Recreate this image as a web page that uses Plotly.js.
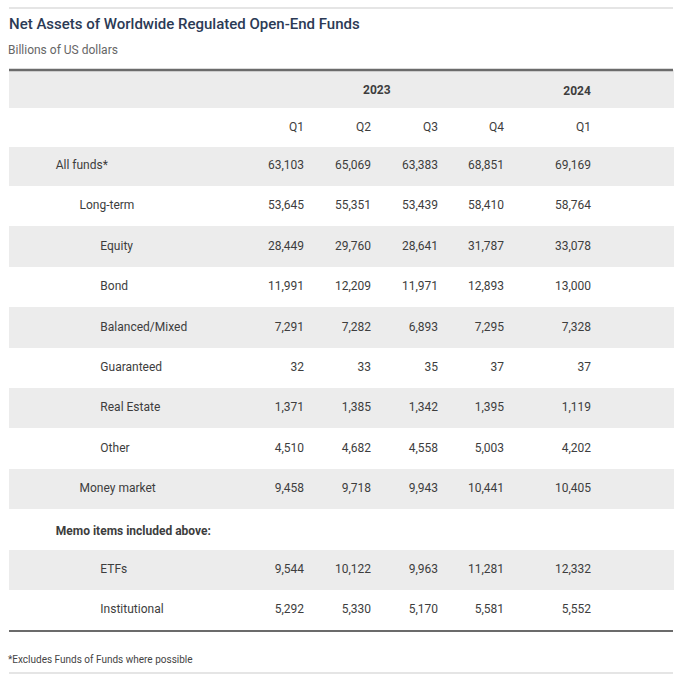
<!DOCTYPE html>
<html>
<head>
<meta charset="utf-8">
<script src="https://cdn.plot.ly/plotly-3.0.1.min.js"></script>
<style>html,body{margin:0;padding:0;background:#fff;}#chart{width:700px;height:677px;}</style>
</head>
<body>
<div id="chart"></div>
<script>
// ---- Data ----
const years = ["2023", "2024"];
const quarters = ["Q1", "Q2", "Q3", "Q4", "Q1"];
const rowLabels = ["All funds*", "Long-term", "Equity", "Bond", "Balanced/Mixed", "Guaranteed",
  "Real Estate", "Other", "Money market", "Memo items included above:", "ETFs", "Institutional"];
const rowLevels = [0, 1, 2, 2, 2, 2, 2, 2, 1, 0, 2, 2];
const q1_2023 = ["63,103", "53,645", "28,449", "11,991", "7,291", "32", "1,371", "4,510", "9,458", "", "9,544", "5,292"];
const q2_2023 = ["65,069", "55,351", "29,760", "12,209", "7,282", "33", "1,385", "4,682", "9,718", "", "10,122", "5,330"];
const q3_2023 = ["63,383", "53,439", "28,641", "11,971", "6,893", "35", "1,342", "4,558", "9,943", "", "9,963", "5,170"];
const q4_2023 = ["68,851", "58,410", "31,787", "12,893", "7,295", "37", "1,395", "5,003", "10,441", "", "11,281", "5,581"];
const q1_2024 = ["69,169", "58,764", "33,078", "13,000", "7,328", "37", "1,119", "4,202", "10,405", "", "12,332", "5,552"];
const chartTitle = "Net Assets of Worldwide Regulated Open-End Funds";
const subtitle = "Billions of US dollars";
const footnote = "*Excludes Funds of Funds where possible";

// ---- Build tables ----
const W = 700, H = 677;
const NB = "\u00a0";
const indentCount = [13, 21, 28];
const labelsOut = rowLabels.map((l, i) => {
  const txt = NB.repeat(indentCount[rowLevels[i]]) + l;
  return l.startsWith("Memo") ? "<b>" + txt + "</b>" : txt;
});
const gray = "#ececec", white = "#ffffff", clear = "rgba(0,0,0,0)";
const rowFill = rowLabels.map((_, i) => i % 2 === 0 ? gray : white);
const nCols = 7;
const headerFill = Array.from({length: nCols}, () => [gray, white]);
const cellFill = Array.from({length: nCols}, () => rowFill);
const colWidths = [236, 67, 67, 67, 66, 87, 74];
const aligns = ["left", "right", "right", "right", "right", "right", "right"];
const baseFont = {family: "Roboto, sans-serif", size: 12, color: "#3d3d3d"};

const headerValues = [
  ["", ""],
  ["", quarters[0]],
  ["", quarters[1]],
  ["", quarters[2]],
  ["", quarters[3]],
  ["<b>" + years[1] + "</b>", quarters[4]],
  ["", ""]
];
const cellValues = [labelsOut, q1_2023, q2_2023, q3_2023, q4_2023, q1_2024, rowLabels.map(() => "")];
const blankHeader = headerValues.map(c => c.map(() => ""));
const blankCells = cellValues.map(c => c.map(() => ""));

const hH = 38, cH = 40.4, textShift = 6;
const tableTop = 70;

// background table: fills only
const bgTrace = {
  type: "table",
  domain: {x: [9 / W, 673 / W], y: [1 - 640 / H, 1 - tableTop / H]},
  columnwidth: colWidths,
  header: {values: blankHeader, height: hH, fill: {color: headerFill}, line: {width: 1, color: headerFill}, font: baseFont},
  cells: {values: blankCells, height: cH, fill: {color: cellFill}, line: {width: 1, color: cellFill}, font: baseFont}
};
// text table: transparent, shifted down to centre the text in each row
const txtTrace = {
  type: "table",
  domain: {x: [9 / W, 673 / W], y: [1 - 646 / H, 1 - (tableTop + textShift) / H]},
  columnwidth: colWidths,
  header: {values: headerValues, align: aligns, height: hH, fill: {color: clear}, line: {width: 0, color: clear}, font: baseFont},
  cells: {values: cellValues, align: aligns, height: cH, fill: {color: clear}, line: {width: 0, color: clear}, font: baseFont}
};

const yp = px => 1 - px / H;
const xp = px => px / W;
const layout = {
  width: W, height: H,
  margin: {l: 0, r: 0, t: 0, b: 0},
  paper_bgcolor: "#fff",
  title: {
    text: chartTitle,
    x: xp(9), xanchor: "left", xref: "paper",
    y: yp(24), yanchor: "middle", yref: "paper",
    font: {family: "Roboto, sans-serif", size: 15, weight: 500, color: "#2b3a55"}
  },
  annotations: [
    {text: subtitle, xref: "paper", yref: "paper", x: xp(6), y: yp(50), xanchor: "left", yanchor: "middle",
     showarrow: false, font: {family: "Roboto, sans-serif", size: 12, color: "#666"}},
    {text: "<b>" + years[0] + "</b>", xref: "paper", yref: "paper", x: xp(377), y: yp(90), xanchor: "center", yanchor: "middle",
     showarrow: false, font: baseFont},
    {text: footnote, xref: "paper", yref: "paper", x: xp(6), y: yp(659), xanchor: "left", yanchor: "middle",
     showarrow: false, font: {family: "Roboto, sans-serif", size: 10, color: "#444"}}
  ],
  shapes: [
    {type: "line", xref: "paper", yref: "paper", x0: xp(9), x1: xp(673), y0: yp(8), y1: yp(8), line: {color: "#dddddd", width: 1.5}},
    {type: "line", xref: "paper", yref: "paper", x0: xp(9), x1: xp(673), y0: yp(70), y1: yp(70), line: {color: "#6b6b6b", width: 2.5}},
    {type: "line", xref: "paper", yref: "paper", x0: xp(9), x1: xp(673), y0: yp(631), y1: yp(631), line: {color: "#6b6b6b", width: 2}},
    {type: "line", xref: "paper", yref: "paper", x0: xp(9), x1: xp(673), y0: yp(673), y1: yp(673), line: {color: "#dddddd", width: 1.5}}
  ]
};

Plotly.newPlot("chart", [bgTrace, txtTrace], layout, {displayModeBar: false, staticPlot: true});
</script>
</body>
</html>
